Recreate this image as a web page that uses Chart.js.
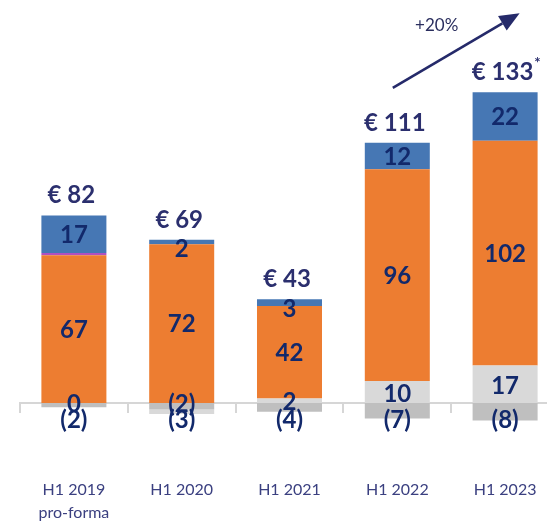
<!DOCTYPE html>
<html><head><meta charset="utf-8">
<script src="https://cdn.jsdelivr.net/npm/chart.js@4/dist/chart.umd.min.js"></script>
<style>html,body{margin:0;padding:0;overflow:hidden;background:#fff}#wrap{width:565px;height:522px}</style>
</head><body><div id="wrap"><canvas id="c" width="565" height="522"></canvas></div>
<script>
const categories = [['H1 2019', 'pro-forma'], 'H1 2020', 'H1 2021', 'H1 2022', 'H1 2023'];
const negativeOther = [-2, -3, -4, -7, -8];
const otherIncome = [0, -2, 2, 10, 17];
const mainSeries = [67, 72, 42, 96, 102];
const minorSeries = [1, 0, 0, 0, 0];
const topSeries = [17, 2, 3, 12, 22];
const totals = [82, 69, 43, 111, 133];
const totalNotes = ['', '', '', '', '*'];
const growthLabel = '+20%';

const VALUE_COLOR = '#12296B';
const TOTAL_COLOR = '#2B2F6E';

const labelPlugin = {
  id: 'barLabels',
  afterDatasetsDraw(chart) {
    const ctx = chart.ctx;
    const zeroY = chart.scales.y.getPixelForValue(0);
    ctx.save();
    ctx.textAlign = 'center';
    ctx.textBaseline = 'middle';
    ctx.font = 'bold 24px Lato';
    ctx.fillStyle = VALUE_COLOR;
    chart.data.datasets.forEach((ds, di) => {
      if (!ds.showLabel) return;
      const meta = chart.getDatasetMeta(di);
      meta.data.forEach((el, i) => {
        const v = ds.data[i];
        const top = Math.min(el.y, el.base), bot = Math.max(el.y, el.base);
        let cy = (top + bot) / 2;
        if (ds.labelMode === 'near') cy = Math.min(cy + 1, zeroY);
        else if (ds.labelMode === 'below') cy = zeroY + 16;
        else if (bot - top < 20) cy += 6;
        ctx.fillText(v < 0 ? '(' + Math.abs(v) + ')' : String(v), el.x, cy + 1);
      });
    });

    // totals
    const tops = [];
    const xs = [];
    totals.forEach((t, i) => {
      let top = Infinity, x = 0;
      chart.data.datasets.forEach((ds, di) => {
        const el = chart.getDatasetMeta(di).data[i];
        top = Math.min(top, el.y, el.base);
        x = el.x;
      });
      tops.push(top); xs.push(x);
      const txt = '€ ' + t;
      const cy = top - 20;
      ctx.font = 'bold 24px Lato';
      ctx.fillStyle = TOTAL_COLOR;
      ctx.textAlign = 'center';
      ctx.fillText(txt, x - 2.5, cy);
      if (totalNotes[i]) {
        const w = ctx.measureText(txt).width;
        ctx.font = 'bold 15px Lato';
        ctx.textAlign = 'left';
        ctx.fillText(totalNotes[i], x - 2.5 + w / 2 + 1, cy - 9);
      }
    });

    // growth arrow between last two bars
    const n = totals.length;
    const sx = xs[n - 2] - 4.5, sy = tops[n - 2] - 55;
    const ex = xs[n - 1] + 14.5, ey = tops[n - 1] - 79;
    const ang = Math.atan2(ey - sy, ex - sx);
    const hl = 20, hw = 8.5;
    const bx = ex - hl * Math.cos(ang), by = ey - hl * Math.sin(ang);
    ctx.strokeStyle = '#252A6A';
    ctx.fillStyle = '#252A6A';
    ctx.lineWidth = 2.6;
    ctx.beginPath();
    ctx.moveTo(sx, sy);
    ctx.lineTo(bx, by);
    ctx.stroke();
    ctx.beginPath();
    ctx.moveTo(ex, ey);
    ctx.lineTo(bx + hw * Math.sin(ang), by - hw * Math.cos(ang));
    ctx.lineTo(bx - hw * Math.sin(ang), by + hw * Math.cos(ang));
    ctx.closePath();
    ctx.fill();
    ctx.font = '17px Lato';
    ctx.fillStyle = '#2A2E5E';
    ctx.textAlign = 'center';
    ctx.fillText(growthLabel, (sx + ex) / 2 - 19.5, (sy + ey) / 2 - 24.5);
    ctx.restore();
  }
};

new Chart(document.getElementById('c'), {
  type: 'bar',
  data: {
    labels: categories,
    datasets: [
      { label: 'Negative', data: negativeOther, backgroundColor: '#BFBFBF', showLabel: true, labelMode: 'below' },
      { label: 'Other', data: otherIncome, backgroundColor: '#D9D9D9', showLabel: true, labelMode: 'near' },
      { label: 'Main', data: mainSeries, backgroundColor: '#ED7D31', showLabel: true },
      { label: 'Minor', data: minorSeries, backgroundColor: '#B050C0', showLabel: false },
      { label: 'Top', data: topSeries, backgroundColor: '#4677B4', showLabel: true }
    ]
  },
  options: {
    responsive: false,
    animation: false,
    devicePixelRatio: 1,
    layout: { padding: { left: 20, right: 6, top: 0, bottom: 0 } },
    datasets: { bar: { categoryPercentage: 1, barPercentage: 0.603, borderWidth: 0, clip: false } },
    plugins: { legend: { display: false }, tooltip: { enabled: false } },
    scales: {
      x: {
        type: 'category',
        stacked: true,
        offset: true,
        position: { y: 0 },
        grid: { offset: true, drawOnChartArea: false, drawTicks: true, tickLength: 9, color: '#D6D6D6', lineWidth: 2 },
        border: { display: true, color: '#D6D6D6', width: 2 },
        ticks: { display: false, padding: 0 }
      },
      x2: {
        type: 'category',
        labels: categories,
        position: 'bottom',
        offset: true,
        grid: { display: false, drawTicks: true, tickLength: 39, color: 'rgba(0,0,0,0)', offset: true },
        border: { display: false },
        ticks: { color: '#3B4080', font: { family: 'Lato', size: 16, lineHeight: 1.4 }, padding: 0, maxRotation: 0, autoSkip: false },
        afterFit: (s) => { s.height = 82; }
      },
      y: {
        stacked: true,
        display: false,
        min: -16.8,
        max: 182.8
      }
    }
  },
  plugins: [labelPlugin]
});
</script>
</body></html>
